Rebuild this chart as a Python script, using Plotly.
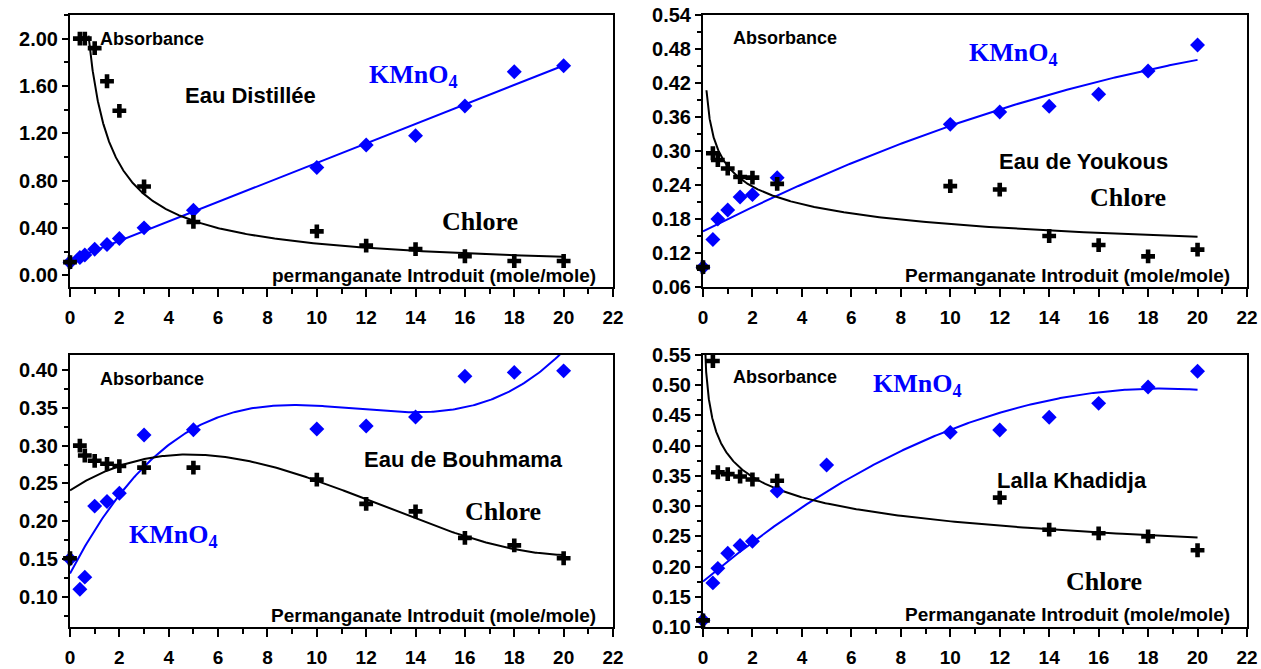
import numpy as np
import plotly.graph_objects as go

# ---- Eau Distillée ----
x_dist = [0, 0.4, 0.6, 1, 1.5, 2, 3, 5, 10, 12, 14, 16, 18, 20]
kmno4_dist = [0.11, 0.15, 0.17, 0.22, 0.26, 0.31, 0.40, 0.55, 0.91, 1.10, 1.18, 1.43, 1.72, 1.77]
chlore_dist = [0.11, 2.00, 2.00, 1.92, 1.64, 1.39, 0.75, 0.45, 0.37, 0.25, 0.22, 0.16, 0.12, 0.12]

# ---- Eau de Youkous ----
x_youk = [0, 0.4, 0.6, 1, 1.5, 2, 3, 10, 12, 14, 16, 18, 20]
kmno4_youk = [0.095, 0.144, 0.180, 0.196, 0.219, 0.223, 0.253, 0.347, 0.369, 0.379, 0.400, 0.441, 0.487]
chlore_youk = [0.095, 0.296, 0.284, 0.269, 0.254, 0.253, 0.242, 0.238, 0.232, 0.150, 0.134, 0.114, 0.126]

# ---- Eau de Bouhmama ----
x_bouh = [0, 0.4, 0.6, 1, 1.5, 2, 3, 5, 10, 12, 14, 16, 18, 20]
kmno4_bouh = [0.150, 0.110, 0.126, 0.220, 0.226, 0.237, 0.314, 0.321, 0.322, 0.326, 0.338, 0.392, 0.397, 0.399]
chlore_bouh = [0.151, 0.300, 0.287, 0.280, 0.276, 0.273, 0.271, 0.271, 0.255, 0.223, 0.213, 0.178, 0.168, 0.151]

# ---- Lalla Khadidja ----
x_lalla_k = [0, 0.4, 0.6, 1, 1.5, 2, 3, 5, 10, 12, 14, 16, 18, 20]
kmno4_lalla = [0.111, 0.173, 0.197, 0.222, 0.235, 0.242, 0.325, 0.368, 0.422, 0.426, 0.447, 0.470, 0.497, 0.523]
x_lalla_c = [0, 0.4, 0.6, 1, 1.5, 2, 3, 12, 14, 16, 18, 20]
chlore_lalla = [0.111, 0.540, 0.356, 0.353, 0.349, 0.344, 0.342, 0.314, 0.261, 0.255, 0.250, 0.227]

# ---- tick values ----
x_ticks = [0, 2, 4, 6, 8, 10, 12, 14, 16, 18, 20, 22]
y_ticks_dist = [0.00, 0.40, 0.80, 1.20, 1.60, 2.00]
y_ticks_youk = [0.06, 0.12, 0.18, 0.24, 0.30, 0.36, 0.42, 0.48, 0.54]
y_ticks_bouh = [0.10, 0.15, 0.20, 0.25, 0.30, 0.35, 0.40]
y_ticks_lalla = [0.10, 0.15, 0.20, 0.25, 0.30, 0.35, 0.40, 0.45, 0.50, 0.55]

x_title = "Permanganate Introduit (mole/mole)"

BLUE = "#0000FF"
SANS = "Liberation Sans"
SERIF = "Liberation Serif"


def poly_trend(x, y, deg, x0=0.0, x1=20.0):
    c = np.polyfit(np.asarray(x, float), np.asarray(y, float), deg)
    xs = np.linspace(x0, x1, 300)
    return xs, np.polyval(c, xs)


def power_trend(x, y, x0, x1=20.0):
    x = np.asarray(x, float)
    y = np.asarray(y, float)
    m = x > 0
    b, ln_a = np.polyfit(np.log(x[m]), np.log(y[m]), 1)
    xs = np.geomspace(x0, x1, 400)
    return xs, np.exp(ln_a) * xs ** b


def bold(s):
    return "<b>" + s + "</b>"


panels = [
    dict(x_k=x_dist, k=kmno4_dist, x_c=x_dist, c=chlore_dist,
         k_fit=poly_trend(x_dist, kmno4_dist, 1),
         c_fit=power_trend(x_dist, chlore_dist, 0.75),
         yr=[-0.1, 2.2], yt=y_ticks_dist, minor=0.2, t0=0,
         xd=[70 / 1261, 613 / 1261], yd=[1 - 287 / 669, 1 - 15 / 669],
         title="Eau Distillée", title_pos=(7.3, 1.52),
         kpos=(13.9, 1.68), cpos=(16.6, 0.45), abs_y=2.0, xt_y=0.0,
         xtitle="permanganate Introduit (mole/mole)"),
    dict(x_k=x_youk, k=kmno4_youk, x_c=x_youk, c=chlore_youk,
         k_fit=poly_trend(x_youk, kmno4_youk, 2),
         c_fit=power_trend(x_youk, chlore_youk, 0.14),
         yr=[0.06, 0.54], yt=y_ticks_youk, minor=0.03, t0=0.06,
         xd=[703 / 1261, 1247 / 1261], yd=[1 - 287 / 669, 1 - 15 / 669],
         title="Eau de Youkous", title_pos=(15.4, 0.281),
         kpos=(12.55, 0.471), cpos=(17.17, 0.218), abs_y=0.499, xt_y=0.081,
         xtitle=x_title),
    dict(x_k=x_bouh, k=kmno4_bouh, x_c=x_bouh, c=chlore_bouh,
         k_fit=poly_trend(x_bouh, kmno4_bouh, 3),
         c_fit=poly_trend(x_bouh, chlore_bouh, 3),
         yr=[0.06, 0.42], yt=y_ticks_bouh, minor=0.025, t0=0,
         xd=[70 / 1261, 613 / 1261], yd=[1 - 627 / 669, 1 - 355 / 669],
         title="Eau de Bouhmama", title_pos=(15.96, 0.282),
         kpos=(4.2, 0.18), cpos=(17.56, 0.213), abs_y=0.388, xt_y=0.0746,
         xtitle=x_title),
    dict(x_k=x_lalla_k, k=kmno4_lalla, x_c=x_lalla_c, c=chlore_lalla,
         k_fit=poly_trend(x_lalla_k, kmno4_lalla, 2),
         c_fit=power_trend(x_lalla_c, chlore_lalla, 0.05),
         yr=[0.10, 0.55], yt=y_ticks_lalla, minor=0.025, t0=0,
         xd=[703 / 1261, 1247 / 1261], yd=[1 - 627 / 669, 1 - 355 / 669],
         title="Lalla Khadidja", title_pos=(14.93, 0.343),
         kpos=(8.68, 0.50), cpos=(16.2, 0.175), abs_y=0.513, xt_y=0.12,
         xtitle=x_title),
]

fig = go.Figure()
annotations = []
layout_axes = {}

for i, p in enumerate(panels, start=1):
    sx = "" if i == 1 else str(i)
    xa, ya = "x" + sx, "y" + sx

    # trend lines first, markers on top
    fig.add_trace(go.Scatter(x=p["k_fit"][0], y=p["k_fit"][1], mode="lines",
                             line=dict(color=BLUE, width=2), xaxis=xa, yaxis=ya,
                             hoverinfo="skip"))
    fig.add_trace(go.Scatter(x=p["c_fit"][0], y=p["c_fit"][1], mode="lines",
                             line=dict(color="black", width=2), xaxis=xa, yaxis=ya,
                             hoverinfo="skip"))
    fig.add_trace(go.Scatter(x=p["x_k"], y=p["k"], mode="markers", name="KMnO4",
                             marker=dict(symbol="diamond", size=11.5, color=BLUE,
                                         line=dict(width=0)),
                             cliponaxis=False, xaxis=xa, yaxis=ya))
    fig.add_trace(go.Scatter(x=p["x_c"], y=p["c"], mode="markers", name="Chlore",
                             marker=dict(symbol="cross", size=11.5, color="black",
                                         line=dict(width=0)),
                             cliponaxis=False, xaxis=xa, yaxis=ya))

    common = dict(showline=True, linecolor="black", linewidth=2, mirror=True,
                  showgrid=False, zeroline=False, ticks="outside",
                  tickcolor="black", tickwidth=2, color="black",
                  automargin=False)
    layout_axes["xaxis" + sx] = dict(
        common, domain=p["xd"], range=[0, 22], tickmode="array",
        tickvals=x_ticks, ticktext=[bold(str(v)) for v in x_ticks], ticklen=8,
        anchor=ya, ticklabelstandoff=4,
        tickfont=dict(family=SANS, size=19, color="black"),
        minor=dict(dtick=1, tick0=0, ticks="outside", ticklen=5,
                   tickwidth=1.5, tickcolor="black"))
    layout_axes["yaxis" + sx] = dict(
        common, domain=p["yd"], range=p["yr"], tickmode="array",
        tickvals=p["yt"], ticktext=[bold(f"{v:.2f}") for v in p["yt"]],
        ticklen=6, anchor=xa,
        tickfont=dict(family=SANS, size=20, color="black"),
        minor=dict(dtick=p["minor"], tick0=p["t0"], ticks="outside", ticklen=4,
                   tickwidth=1.5, tickcolor="black"))

    annotations += [
        dict(x=1.15, y=p["abs_y"], xref=xa, yref=ya, text=bold("Absorbance"),
             showarrow=False, xanchor="left", yanchor="middle",
             font=dict(family=SANS, size=18, color="black")),
        dict(x=p["title_pos"][0], y=p["title_pos"][1], xref=xa, yref=ya,
             text=bold(p["title"]), showarrow=False, xanchor="center",
             yanchor="middle", font=dict(family=SANS, size=22, color="black")),
        dict(x=p["kpos"][0], y=p["kpos"][1], xref=xa, yref=ya,
             text=bold("KMnO<sub>4</sub>"), showarrow=False, xanchor="center",
             yanchor="middle", font=dict(family=SERIF, size=26, color=BLUE)),
        dict(x=p["cpos"][0], y=p["cpos"][1], xref=xa, yref=ya, text=bold("Chlore"),
             showarrow=False, xanchor="center", yanchor="middle",
             font=dict(family=SERIF, size=26, color="black")),
        dict(x=21.4, y=p["xt_y"], xref=xa, yref=ya, text=bold(p["xtitle"]),
             showarrow=False, xanchor="right", yanchor="middle",
             font=dict(family=SANS, size=19, color="black")),
    ]

fig.update_layout(
    width=1261, height=669, margin=dict(l=0, r=0, t=0, b=0, autoexpand=False),
    paper_bgcolor="white", plot_bgcolor="white", showlegend=False,
    annotations=annotations, **layout_axes)

fig.write_html("out.html")
